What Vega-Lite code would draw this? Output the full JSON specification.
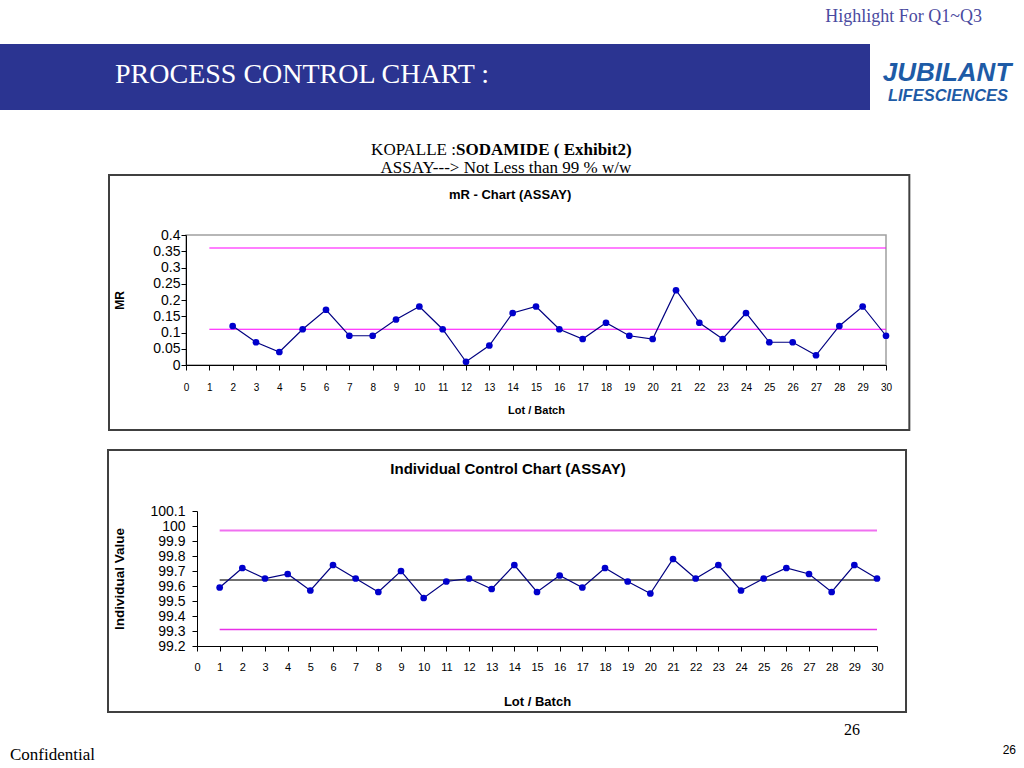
{
  "$schema": "https://vega.github.io/schema/vega-lite/v6.json",
  "background": "white",
  "padding": {"top": 8, "left": 0, "right": 0, "bottom": 0},
  "title": {"text": "Highlight For Q1~Q3", "anchor": "end", "font": "Liberation Serif", "fontSize": 18, "fontWeight": "normal", "color": "#4a4aa0", "dx": -34, "offset": 18},
  "config": {
    "view": {"stroke": null},
    "axis": {"grid": false, "domainColor": "#000", "tickColor": "#000", "labelColor": "#000", "titleColor": "#000", "labelFont": "Liberation Sans", "titleFont": "Liberation Sans", "labelFlush": false, "labelOverlap": false}
  },
  "datasets": {
    "mr": [
      {"lot": 2, "mr": 0.12}, {"lot": 3, "mr": 0.07}, {"lot": 4, "mr": 0.04}, {"lot": 5, "mr": 0.11},
      {"lot": 6, "mr": 0.17}, {"lot": 7, "mr": 0.09}, {"lot": 8, "mr": 0.09}, {"lot": 9, "mr": 0.14},
      {"lot": 10, "mr": 0.18}, {"lot": 11, "mr": 0.11}, {"lot": 12, "mr": 0.01}, {"lot": 13, "mr": 0.06},
      {"lot": 14, "mr": 0.16}, {"lot": 15, "mr": 0.18}, {"lot": 16, "mr": 0.11}, {"lot": 17, "mr": 0.08},
      {"lot": 18, "mr": 0.13}, {"lot": 19, "mr": 0.09}, {"lot": 20, "mr": 0.08}, {"lot": 21, "mr": 0.23},
      {"lot": 22, "mr": 0.13}, {"lot": 23, "mr": 0.08}, {"lot": 24, "mr": 0.16}, {"lot": 25, "mr": 0.07},
      {"lot": 26, "mr": 0.07}, {"lot": 27, "mr": 0.03}, {"lot": 28, "mr": 0.12}, {"lot": 29, "mr": 0.18},
      {"lot": 30, "mr": 0.09}
    ],
    "assay": [
      {"lot": 1, "assay": 99.59}, {"lot": 2, "assay": 99.72}, {"lot": 3, "assay": 99.65}, {"lot": 4, "assay": 99.68},
      {"lot": 5, "assay": 99.57}, {"lot": 6, "assay": 99.74}, {"lot": 7, "assay": 99.65}, {"lot": 8, "assay": 99.56},
      {"lot": 9, "assay": 99.70}, {"lot": 10, "assay": 99.52}, {"lot": 11, "assay": 99.63}, {"lot": 12, "assay": 99.65},
      {"lot": 13, "assay": 99.58}, {"lot": 14, "assay": 99.74}, {"lot": 15, "assay": 99.56}, {"lot": 16, "assay": 99.67},
      {"lot": 17, "assay": 99.59}, {"lot": 18, "assay": 99.72}, {"lot": 19, "assay": 99.63}, {"lot": 20, "assay": 99.55},
      {"lot": 21, "assay": 99.78}, {"lot": 22, "assay": 99.65}, {"lot": 23, "assay": 99.74}, {"lot": 24, "assay": 99.57},
      {"lot": 25, "assay": 99.65}, {"lot": 26, "assay": 99.72}, {"lot": 27, "assay": 99.68}, {"lot": 28, "assay": 99.56},
      {"lot": 29, "assay": 99.74}, {"lot": 30, "assay": 99.65}
    ],
    "mrLimits": [{"limit": "UCL", "value": 0.36}, {"limit": "CL", "value": 0.11}],
    "assayLimits": [{"limit": "UCL", "value": 99.97}, {"limit": "CL", "value": 99.64}, {"limit": "LCL", "value": 99.31}]
  },
  "spacing": 30,
  "vconcat": [
    {
      "spacing": 0,
      "hconcat": [
        {
          "width": 870, "height": 66,
          "view": {"fill": "#2B3491", "stroke": null},
          "data": {"values": [{"t": "PROCESS CONTROL CHART :"}]},
          "mark": {"type": "text", "align": "left", "baseline": "middle", "dx": -320, "dy": -2, "font": "Liberation Serif", "fontSize": 28, "color": "white"},
          "encoding": {"text": {"field": "t"}}
        },
        {
          "width": 146, "height": 66,
          "layer": [
            {
              "data": {"values": [{"t": "JUBILANT"}]},
              "mark": {"type": "text", "baseline": "middle", "dx": 4, "dy": -4, "font": "Liberation Sans", "fontSize": 26, "fontWeight": "bold", "fontStyle": "italic", "color": "#1E5BA6"},
              "encoding": {"text": {"field": "t"}}
            },
            {
              "data": {"values": [{"t": "LIFESCIENCES"}]},
              "mark": {"type": "text", "baseline": "middle", "dx": 5, "dy": 19, "font": "Liberation Sans", "fontSize": 16.5, "fontWeight": "bold", "fontStyle": "italic", "color": "#1E5BA6"},
              "encoding": {"text": {"field": "t"}}
            }
          ]
        }
      ]
    },
    {
      "spacing": 16,
      "vconcat": [
        {
          "spacing": 0,
          "hconcat": [
            {"width": 107, "height": 10, "data": {"values": []}, "mark": "point"},
            {
              "width": 700, "height": 130,
              "view": {"stroke": "#a0a0a0", "strokeWidth": 1.5},
              "layer": [
                {
                  "data": {"values": [{"box": "chart area"}]},
                  "mark": {"type": "rect", "filled": false, "stroke": "#404040", "strokeWidth": 2, "clip": false},
                  "encoding": {
                    "x": {"datum": -3.3, "type": "quantitative", "scale": {"domain": [0, 30], "nice": false, "zero": false},
                      "axis": {"values": [0,1,2,3,4,5,6,7,8,9,10,11,12,13,14,15,16,17,18,19,20,21,22,23,24,25,26,27,28,29,30], "tickCount": 40, "title": "Lot / Batch", "labelFontSize": 10, "labelPadding": 12, "tickSize": 5, "titleFontSize": 11, "titleFontWeight": "bold", "titlePadding": 12}},
                    "x2": {"datum": 31.0},
                    "y": {"datum": 0.585, "type": "quantitative", "scale": {"domain": [0, 0.4], "nice": false, "zero": false},
                      "axis": {"values": [0, 0.05, 0.1, 0.15, 0.2, 0.25, 0.3, 0.35, 0.4], "tickCount": 20, "format": "~g", "title": "MR", "labelFontSize": 14, "labelPadding": 1, "tickSize": 5, "titleFontSize": 12, "titleFontWeight": "bold", "titlePadding": 26}},
                    "y2": {"datum": -0.2}
                  }
                },
                {
                  "data": {"values": [{"t": "KOPALLE :"}]},
                  "mark": {"type": "text", "align": "right", "baseline": "middle", "font": "Liberation Serif", "fontSize": 17, "color": "#000"},
                  "encoding": {
                    "x": {"datum": 11.57, "type": "quantitative"},
                    "y": {"datum": 0.6615, "type": "quantitative"},
                    "text": {"field": "t"}
                  }
                },
                {
                  "data": {"values": [{"t": "SODAMIDE ( Exhibit2)"}]},
                  "mark": {"type": "text", "align": "left", "baseline": "middle", "font": "Liberation Serif", "fontSize": 17, "fontWeight": "bold", "color": "#000"},
                  "encoding": {
                    "x": {"datum": 11.57, "type": "quantitative"},
                    "y": {"datum": 0.6615, "type": "quantitative"},
                    "text": {"field": "t"}
                  }
                },
                {
                  "data": {"values": [{"t": "ASSAY---> Not Less than 99 % w/w"}]},
                  "mark": {"type": "text", "align": "center", "baseline": "middle", "font": "Liberation Serif", "fontSize": 17, "color": "#000"},
                  "encoding": {
                    "x": {"datum": 13.71, "type": "quantitative"},
                    "y": {"datum": 0.606, "type": "quantitative"},
                    "text": {"field": "t"}
                  }
                },
                {
                  "data": {"values": [{"t": "mR - Chart (ASSAY)"}]},
                  "mark": {"type": "text", "align": "center", "baseline": "middle", "font": "Liberation Sans", "fontSize": 13, "fontWeight": "bold", "color": "#000"},
                  "encoding": {
                    "x": {"datum": 13.89, "type": "quantitative"},
                    "y": {"datum": 0.523, "type": "quantitative"},
                    "text": {"field": "t"}
                  }
                },
                {
                  "data": {"name": "mrLimits"},
                  "mark": {"type": "rule", "color": "#FF00FF", "strokeWidth": 1.2},
                  "encoding": {
                    "x": {"datum": 1, "type": "quantitative"},
                    "x2": {"datum": 30},
                    "y": {"field": "value", "type": "quantitative"}
                  }
                },
                {
                  "data": {"name": "mr"},
                  "mark": {"type": "line", "color": "#000080", "strokeWidth": 1.2, "point": {"filled": true, "color": "#0000CC", "size": 45}},
                  "encoding": {
                    "x": {"field": "lot", "type": "quantitative", "scale": {"domain": [0, 30], "nice": false, "zero": false},
                      "axis": {"values": [0,1,2,3,4,5,6,7,8,9,10,11,12,13,14,15,16,17,18,19,20,21,22,23,24,25,26,27,28,29,30], "tickCount": 40, "title": "Lot / Batch", "labelFontSize": 10, "labelPadding": 12, "tickSize": 5, "titleFontSize": 11, "titleFontWeight": "bold", "titlePadding": 12}},
                    "y": {"field": "mr", "type": "quantitative", "scale": {"domain": [0, 0.4], "nice": false, "zero": false},
                      "axis": {"values": [0, 0.05, 0.1, 0.15, 0.2, 0.25, 0.3, 0.35, 0.4], "tickCount": 20, "format": "~g", "title": "MR", "labelFontSize": 14, "labelPadding": 1, "tickSize": 5, "titleFontSize": 12, "titleFontWeight": "bold", "titlePadding": 26}}
                  }
                }
              ]
            }
          ]
        },
        {
          "spacing": 0,
          "vconcat": [
            {
              "spacing": 0,
              "hconcat": [
                {"width": 107, "height": 10, "data": {"values": []}, "mark": "point"},
                {
                  "width": 680, "height": 135,
                  "layer": [
                    {
                      "data": {"values": [{"box": "chart area"}]},
                      "mark": {"type": "rect", "filled": false, "stroke": "#404040", "strokeWidth": 2, "clip": false},
                      "encoding": {
                        "x": {"datum": -3.926, "type": "quantitative", "scale": {"domain": [0, 30], "nice": false, "zero": false},
                          "axis": {"values": [0,1,2,3,4,5,6,7,8,9,10,11,12,13,14,15,16,17,18,19,20,21,22,23,24,25,26,27,28,29,30], "tickCount": 40, "title": "Lot / Batch", "labelFontSize": 11, "labelPadding": 10, "tickSize": 5, "titleFontSize": 13, "titleFontWeight": "bold", "titlePadding": 23}},
                        "x2": {"datum": 31.28},
                        "y": {"datum": 100.507, "type": "quantitative", "scale": {"domain": [99.2, 100.1], "nice": false, "zero": false},
                          "axis": {"values": [99.2, 99.3, 99.4, 99.5, 99.6, 99.7, 99.8, 99.9, 100, 100.1], "tickCount": 20, "format": "~g", "title": "Individual Value", "labelFontSize": 14, "labelPadding": 7, "tickSize": 5, "titleFontSize": 13.5, "titleFontWeight": "bold", "titlePadding": 23}},
                        "y2": {"datum": 98.76}
                      }
                    },
                    {
                      "data": {"values": [{"t": "Individual Control Chart (ASSAY)"}]},
                      "mark": {"type": "text", "align": "center", "baseline": "middle", "font": "Liberation Sans", "fontSize": 15, "fontWeight": "bold", "color": "#000"},
                      "encoding": {
                        "x": {"datum": 13.72, "type": "quantitative"},
                        "y": {"datum": 100.38, "type": "quantitative"},
                        "text": {"field": "t"}
                      }
                    },
                    {
                      "data": {"name": "assayLimits"},
                      "transform": [{"filter": "datum.limit === 'UCL'"}],
                      "mark": {"type": "rule", "color": "#F070F0", "strokeWidth": 2.2},
                      "encoding": {
                        "x": {"datum": 1, "type": "quantitative"},
                        "x2": {"datum": 30},
                        "y": {"field": "value", "type": "quantitative"}
                      }
                    },
                    {
                      "data": {"name": "assayLimits"},
                      "transform": [{"filter": "datum.limit === 'LCL'"}],
                      "mark": {"type": "rule", "color": "#E830E8", "strokeWidth": 1.5},
                      "encoding": {
                        "x": {"datum": 1, "type": "quantitative"},
                        "x2": {"datum": 30},
                        "y": {"field": "value", "type": "quantitative"}
                      }
                    },
                    {
                      "data": {"name": "assayLimits"},
                      "transform": [{"filter": "datum.limit === 'CL'"}],
                      "mark": {"type": "rule", "color": "#404040", "strokeWidth": 1.3},
                      "encoding": {
                        "x": {"datum": 1, "type": "quantitative"},
                        "x2": {"datum": 30},
                        "y": {"field": "value", "type": "quantitative"}
                      }
                    },
                    {
                      "data": {"name": "assay"},
                      "mark": {"type": "line", "color": "#000080", "strokeWidth": 1.2, "point": {"filled": true, "color": "#0000CC", "size": 45}},
                      "encoding": {
                        "x": {"field": "lot", "type": "quantitative", "scale": {"domain": [0, 30], "nice": false, "zero": false},
                          "axis": {"values": [0,1,2,3,4,5,6,7,8,9,10,11,12,13,14,15,16,17,18,19,20,21,22,23,24,25,26,27,28,29,30], "tickCount": 40, "title": "Lot / Batch", "labelFontSize": 11, "labelPadding": 10, "tickSize": 5, "titleFontSize": 13, "titleFontWeight": "bold", "titlePadding": 23}},
                        "y": {"field": "assay", "type": "quantitative", "scale": {"domain": [99.2, 100.1], "nice": false, "zero": false},
                          "axis": {"values": [99.2, 99.3, 99.4, 99.5, 99.6, 99.7, 99.8, 99.9, 100, 100.1], "tickCount": 20, "format": "~g", "title": "Individual Value", "labelFontSize": 14, "labelPadding": 7, "tickSize": 5, "titleFontSize": 13.5, "titleFontWeight": "bold", "titlePadding": 23}}
                      }
                    }
                  ]
                }
              ]
            },
            {
              "width": 1016, "height": 56,
              "layer": [
                {
                  "data": {"values": [{"t": "26"}]},
                  "mark": {"type": "text", "align": "center", "baseline": "middle", "dx": 344, "dy": -12, "font": "Liberation Serif", "fontSize": 16, "color": "#000"},
                  "encoding": {"text": {"field": "t"}}
                },
                {
                  "data": {"values": [{"t": "Confidential"}]},
                  "mark": {"type": "text", "align": "left", "baseline": "middle", "dx": -498, "dy": 13, "font": "Liberation Serif", "fontSize": 17, "color": "#000"},
                  "encoding": {"text": {"field": "t"}}
                },
                {
                  "data": {"values": [{"t": "26"}]},
                  "mark": {"type": "text", "align": "right", "baseline": "middle", "dx": 508, "dy": 8, "font": "Liberation Sans", "fontSize": 12, "color": "#000"},
                  "encoding": {"text": {"field": "t"}}
                }
              ]
            }
          ]
        }
      ]
    }
  ]
}
